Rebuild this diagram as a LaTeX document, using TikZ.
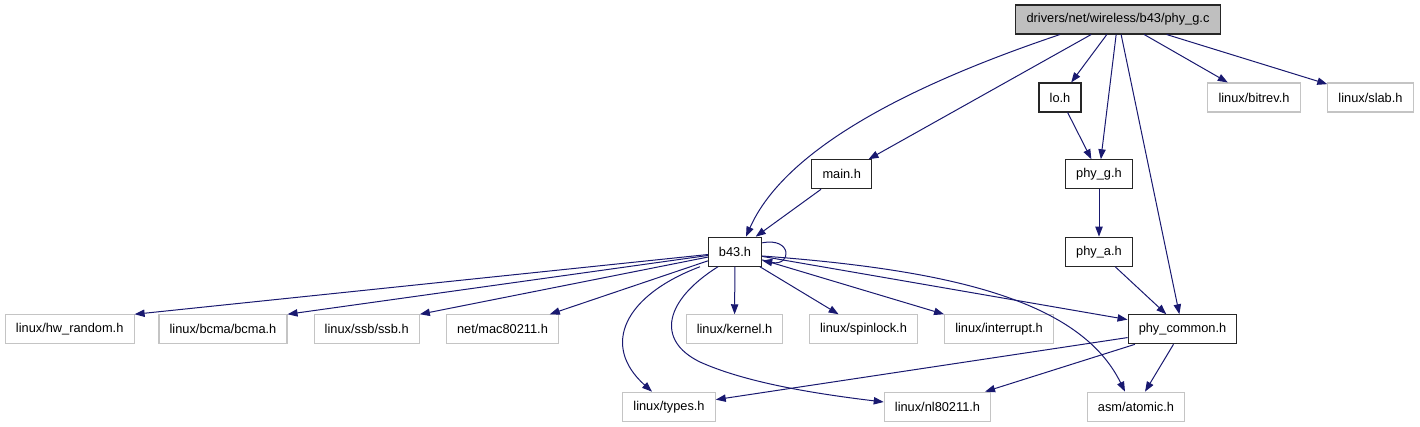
\documentclass[tikz,border=0pt]{standalone}
\usepackage{fontspec}
\setmainfont{Liberation Sans}
\usetikzlibrary{arrows.meta}
\definecolor{edgeblue}{RGB}{25,25,112}
\definecolor{rootgray}{RGB}{191,191,191}
\definecolor{extgray}{RGB}{196,196,196}

\begin{document}
\begin{tikzpicture}[x=0.75pt, y=-0.75pt,
    file/.style={draw=black!85, line width=0.8pt, fill=white, minimum height=21.75pt,
                 inner xsep=8pt, inner ysep=0pt, font=\fontsize{9.6}{11}\selectfont},
    root/.style={file, fill=rootgray},
    sysfile/.style={file, draw=extgray},
    dep/.style={draw=edgeblue, line width=0.75pt, -{Triangle[length=7.5pt, width=5.5pt]}}
  ]
  \useasboundingbox (0,0) rectangle (1420,427);
  % top level
  \node[root] (pgc) at (1118,19.5) {drivers/net/wireless/b43/phy\_g.c};
  \node[file] (loh) at (1060,97.5) {lo.h};
  \node[sysfile] (bitrev) at (1254,97.5) {linux/bitrev.h};
  \node[sysfile] (slab) at (1370.5,97.5) {linux/slab.h};
  % middle
  \node[file] (mainh) at (841.7,174.3) {main.h};
  \node[file] (phyg) at (1099,174.3) {phy\_g.h};
  \node[file] (b43) at (735,251.7) {b43.h};
  \node[file] (phya) at (1099,251.7) {phy\_a.h};
  % row of headers
  \node[sysfile] (hwrand) at (69.7,329.3) {linux/hw\_random.h};
  \node[sysfile] (bcma) at (223,329.3) {linux/bcma/bcma.h};
  \node[sysfile] (ssb) at (366.7,329.3) {linux/ssb/ssb.h};
  \node[sysfile] (mac) at (502.5,329.3) {net/mac80211.h};
  \node[sysfile] (kern) at (734.5,329.3) {linux/kernel.h};
  \node[sysfile] (spin) at (863.5,329.3) {linux/spinlock.h};
  \node[sysfile] (intr) at (999,329.3) {linux/interrupt.h};
  \node[file] (pcom) at (1182.5,329.3) {phy\_common.h};
  % bottom
  \node[sysfile] (types) at (669,406.7) {linux/types.h};
  \node[sysfile] (nl) at (937.5,406.7) {linux/nl80211.h};
  \node[sysfile] (atomic) at (1136,406.7) {asm/atomic.h};
  % phy_g.c includes
  \draw[dep] (pgc.south -| 1060,0) .. controls (880,95) and (780,160) .. (b43.north -| 746,0);
  \draw[dep] (pgc) -- (mainh);
  \draw[dep] (pgc) -- (loh);
  \draw[dep] (pgc) -- (phyg);
  \draw[dep] (pgc) -- (pcom);
  \draw[dep] (pgc) -- (bitrev);
  \draw[dep] (pgc) -- (slab);
  \draw[dep] (loh) -- (phyg);
  \draw[dep] (mainh) -- (b43);
  \draw[dep] (phyg) -- (phya);
  \draw[dep] (phya) -- (pcom);
  % b43.h includes
  \draw[dep] (b43.18) .. controls +(30,-6) and +(30,6) .. (b43.-18);
  \draw[dep] (b43) -- (hwrand.north east);
  \draw[dep] (b43) -- (bcma.north east);
  \draw[dep] (b43) -- (ssb.north east);
  \draw[dep] (b43) -- ([xshift=-7pt]mac.north east);
  \draw[dep] (b43.south west -| 700,0) .. controls (625,295) and (600,345) .. (types.north -| 652,0);
  \draw[dep] (b43.south -| 718,0) .. controls (665,300) and (655,340) .. (700,362)
             .. controls (740,380) and (800,392) .. (nl.175);
  \draw[dep] (b43) -- (kern);
  \draw[dep] (b43) -- (spin);
  \draw[dep] (b43) -- (intr.north west);
  \draw[dep] (b43) -- (pcom.170);
  \draw[dep] (b43.east |- 0,256) .. controls (950,270) and (1080,300) .. (atomic.north -| 1125,0);
  % phy_common.h includes
  \draw[dep] (pcom) -- (atomic);
  \draw[dep] (pcom) -- (nl);
  \draw[dep] (pcom) -- (types);
\end{tikzpicture}
\end{document}
